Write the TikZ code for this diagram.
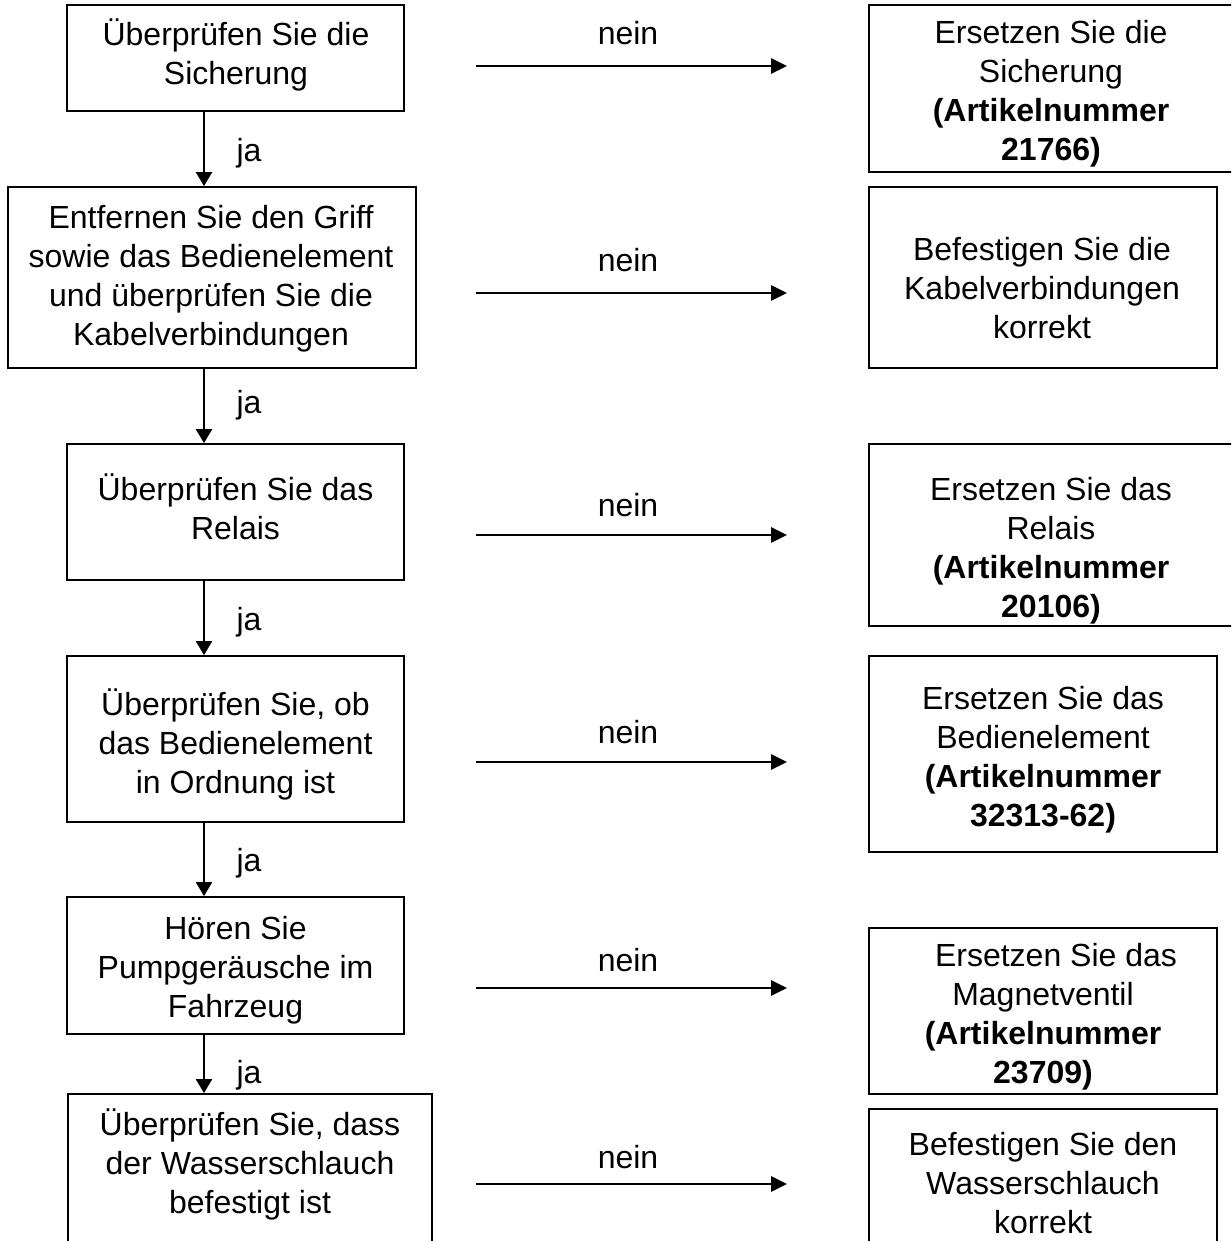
\documentclass[tikz,border=0pt]{standalone}
\usepackage{fontspec}
\setmainfont{Liberation Sans}
\usetikzlibrary{arrows.meta}

\begin{document}
\begin{tikzpicture}
[x=0.5pt, y=-0.5pt,
% The stepbox style is used to draw the frame of each box
stepbox/.style={rectangle, draw, line width=0.9pt, inner sep=0pt},
% The txt style is used to write the text inside the boxes
txt/.style={align=center, inner sep=0pt, font=\fontsize{16pt}{19.5pt}\selectfont},
% The answer style is used to write ja and nein
answer/.style={inner sep=0pt, font=\fontsize{16pt}{19.5pt}\selectfont},
yesarrow/.style={line width=1.1pt, -{Triangle[length=7pt,width=8pt]}},
noarrow/.style={line width=1.4pt, -{Triangle[length=8pt,width=7.5pt]}}
]
\useasboundingbox (0,0) rectangle (1231,1241);
\clip (0,0) rectangle (1231,1241);

% Draw checks (left column)
\node[stepbox, minimum width=168.5pt, minimum height=53pt] (l1) at (235.5,58) {};
\node[stepbox, minimum width=204pt, minimum height=90.5pt] (l2) at (212,277.5) {};
\node[stepbox, minimum width=168.5pt, minimum height=68pt] (l3) at (235.5,512) {};
\node[stepbox, minimum width=168.5pt, minimum height=83pt] (l4) at (235.5,739) {};
\node[stepbox, minimum width=168.5pt, minimum height=68.5pt] (l5) at (235.5,965.5) {};
\node[stepbox, minimum width=182pt, minimum height=88pt] (l6) at (250,1182) {};
\node[txt] (l1txt) at (236,55) {Überprüfen Sie die\\Sicherung};
\node[txt] (l2txt) at (211,278.5) {Entfernen Sie den Griff\\sowie das Bedienelement\\und überprüfen Sie die\\Kabelverbindungen};
\node[txt] (l3txt) at (235.5,507) {Überprüfen Sie das\\Relais};
\node[txt] (l4txt) at (235.5,744) {Überprüfen Sie, ob\\das Bedienelement\\in Ordnung ist};
\node[txt] (l5txt) at (235.5,970) {Hören Sie\\Pumpgeräusche im\\Fahrzeug};
\node[txt] (l6txt) at (250,1164) {Überprüfen Sie, dass\\der Wasserschlauch\\befestigt ist};

% Draw remedies (right column)
\node[stepbox, minimum width=182.5pt, minimum height=83.5pt] (r1) at (1051.5,88.5) {};
\node[stepbox, minimum width=174pt, minimum height=90.5pt] (r2) at (1043,277.5) {};
\node[stepbox, minimum width=182.5pt, minimum height=91pt] (r3) at (1051.5,535) {};
\node[stepbox, minimum width=174pt, minimum height=98pt] (r4) at (1043,754) {};
\node[stepbox, minimum width=174pt, minimum height=83pt] (r5) at (1043,1011) {};
\node[stepbox, minimum width=174pt, minimum height=80.5pt] (r6) at (1043,1189.5) {};
\node[txt] (r1txt) at (1051,94) {Ersetzen Sie die\\Sicherung\\\textbf{(Artikelnummer}\\\textbf{21766)}};
\node[txt] (r2txt) at (1042,288) {Befestigen Sie die\\Kabelverbindungen\\korrekt};
\node[txt] (r3txt) at (1051,551) {Ersetzen Sie das\\Relais\\\textbf{(Artikelnummer}\\\textbf{20106)}};
\node[txt] (r4txt) at (1043,760) {Ersetzen Sie das\\Bedienelement\\\textbf{(Artikelnummer}\\\textbf{32313-62)}};
\node[txt] (r5txt) at (1043,1016.5) {\hspace*{13pt}Ersetzen Sie das\\Magnetventil\\\textbf{(Artikelnummer}\\\textbf{23709)}};
\node[txt] (r6txt) at (1043,1183) {Befestigen Sie den\\Wasserschlauch\\korrekt};

% Draw ja arrows
\coordinate (ax) at (204,0);
\draw[yesarrow] (l1.south -| ax) -- (l2.north -| ax);
\draw[yesarrow] (l2.south -| ax) -- (l3.north -| ax);
\draw[yesarrow] (l3.south -| ax) -- (l4.north -| ax);
\draw[yesarrow] (l4.south -| ax) -- (l5.north -| ax);
\draw[yesarrow] (l5.south -| ax) -- (l6.north -| ax);
\node[answer] (ja1) at (249,153) {ja};
\node[answer] (ja2) at (249,405) {ja};
\node[answer] (ja3) at (249,622) {ja};
\node[answer] (ja4) at (249,863) {ja};
\node[answer] (ja5) at (249,1075) {ja};

% Draw nein arrows
\coordinate (n1a) at (476,66);   \coordinate (n1b) at (787,66);
\coordinate (n2a) at (476,293);  \coordinate (n2b) at (787,293);
\coordinate (n3a) at (476,535);  \coordinate (n3b) at (787,535);
\coordinate (n4a) at (476,762);  \coordinate (n4b) at (787,762);
\coordinate (n5a) at (476,988);  \coordinate (n5b) at (787,988);
\coordinate (n6a) at (476,1184); \coordinate (n6b) at (787,1184);
\draw[noarrow] (n1a) -- (n1b);
\draw[noarrow] (n2a) -- (n2b);
\draw[noarrow] (n3a) -- (n3b);
\draw[noarrow] (n4a) -- (n4b);
\draw[noarrow] (n5a) -- (n5b);
\draw[noarrow] (n6a) -- (n6b);
\node[answer] (nein1) at (628,33) {nein};
\node[answer] (nein2) at (628,260) {nein};
\node[answer] (nein3) at (628,505) {nein};
\node[answer] (nein4) at (628,732) {nein};
\node[answer] (nein5) at (628,960) {nein};
\node[answer] (nein6) at (628,1157) {nein};
\end{tikzpicture}
\end{document}
